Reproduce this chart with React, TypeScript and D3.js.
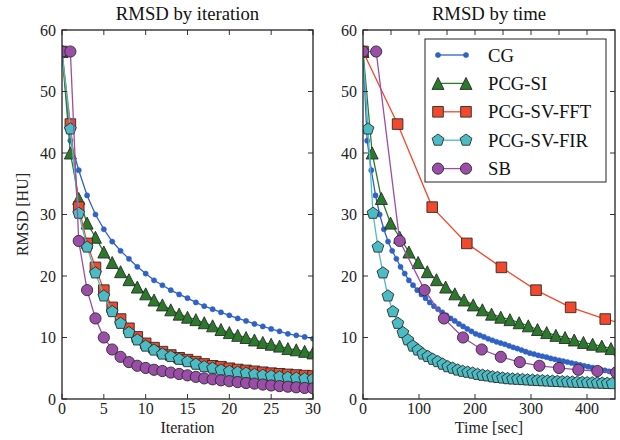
import React from "react";
import * as d3 from "d3";

// ---------- data ----------
const seriesNames = ["CG", "PCG-SI", "PCG-SV-FFT", "PCG-SV-FIR", "SB"];

const cgValues = [56.5, 42, 37.2, 33.1, 30.0, 27.6, 25.6, 24.1, 22.8, 21.5, 20.4, 19.3, 18.5, 17.7, 17.0, 16.4, 15.7, 15.1, 14.6, 14.1, 13.6, 13.1, 12.7, 12.2, 11.8, 11.4, 11.0, 10.6, 10.35, 10.1, 9.8,
  9.55, 9.3, 9.1, 8.9, 8.65, 8.4, 8.2, 7.95, 7.7, 7.45, 7.3, 7.1, 6.95, 6.8, 6.6, 6.45, 6.3, 6.15, 6.0, 5.85, 5.7, 5.55, 5.4, 5.25, 5.1, 4.95, 4.8, 4.65, 4.5, 4.35];
const pcgSiValues = [56.5, 40.0, 32.6, 28.6, 26.3, 23.9, 22.2, 20.7, 19.4, 18.2, 17.1, 16.1, 15.3, 14.5, 13.8, 13.3, 12.9, 12.4, 11.9, 11.3, 10.8, 10.35, 10.0, 9.6, 9.2, 8.9, 8.6, 8.2, 8.0, 7.75, 7.5];
const fftValues = [56.5, 44.7, 31.2, 25.3, 21.4, 17.7, 14.9, 13.0, 11.5, 10.1, 9.05, 8.35, 7.7, 7.15, 6.7, 6.4, 6.07, 5.7, 5.4, 5.25, 5.0, 4.8, 4.65, 4.5, 4.35, 4.2, 4.1, 4.0, 3.9, 3.8, 3.75];
const firValues = [56.5, 43.9, 30.2, 24.7, 20.5, 16.75, 14.2, 12.3, 10.8, 9.6, 8.6, 7.95, 7.3, 6.9, 6.45, 6.07, 5.65, 5.25, 5.0, 4.7, 4.5, 4.35, 4.2, 4.0, 3.85, 3.75, 3.6, 3.5, 3.4, 3.3, 3.25,
  3.2, 3.15, 3.1, 3.05, 3.0, 2.96, 2.92, 2.88, 2.84, 2.8, 2.77, 2.74, 2.71, 2.68, 2.65, 2.62, 2.59, 2.56, 2.53, 2.5];
const sbValues = [56.5, 56.5, 25.7, 17.7, 13.1, 10.0, 8.05, 6.85, 6.0, 5.4, 5.05, 4.75, 4.55, 4.3, 4.07, 3.85, 3.6, 3.35, 3.2, 3.04, 2.9, 2.75, 2.6, 2.5, 2.35, 2.2, 2.1, 2.0, 1.9, 1.8, 1.74];

// seconds per iteration (right panel), SB has measured times
const cgSecPerIter = 7.45;
const pcgSiSecPerIter = 16.4;
const fftSecPerIter = 61.8;
const firSecPerIter = 8.9;
const sbTimes = [0, 23.5, 65.5, 110, 144.6, 178.6, 212, 246, 280, 315, 350, 384.5, 418.5, 452];

const iterTicks = [0, 5, 10, 15, 20, 25, 30];
const timeTicks = [0, 100, 200, 300, 400];
const timeMinorTicks = [50, 150, 250, 350];
const rmsdTicks = [0, 10, 20, 30, 40, 50, 60];

// ---------- style ----------
const colors = ["#2f62c4", "#2b7a2b", "#f2482b", "#4bbcc3", "#9b4ea8"];
const markerKinds = ["dot", "triangle", "square", "pentagon", "circle"];
const FONT = "'Liberation Serif', 'DejaVu Serif', serif";

function markerPath(kind: string, cx: number, cy: number): string {
  if (kind === "dot") {
    const r = 2.6;
    return `M${cx + r},${cy}A${r},${r} 0 1,1 ${cx - r},${cy}A${r},${r} 0 1,1 ${cx + r},${cy}Z`;
  }
  if (kind === "circle") {
    const r = 5.6;
    return `M${cx + r},${cy}A${r},${r} 0 1,1 ${cx - r},${cy}A${r},${r} 0 1,1 ${cx + r},${cy}Z`;
  }
  if (kind === "square") {
    const h = 5.3;
    return `M${cx - h},${cy - h}L${cx + h},${cy - h}L${cx + h},${cy + h}L${cx - h},${cy + h}Z`;
  }
  if (kind === "triangle") {
    const h = 6;
    return `M${cx},${cy - h}L${cx + h},${cy + h}L${cx - h},${cy + h}Z`;
  }
  // pentagon
  const r = 6.2;
  const pts = d3.range(5).map((i) => {
    const a = -Math.PI / 2 + (i * 2 * Math.PI) / 5;
    return [cx + r * Math.cos(a), cy + r * Math.sin(a)];
  });
  return "M" + pts.map((p) => p.join(",")).join("L") + "Z";
}

type Pt = [number, number];

function Series({ pts, i }: { pts: Pt[]; i: number }) {
  const line = d3.line<Pt>().x((d) => d[0]).y((d) => d[1]);
  const kind = markerKinds[i];
  const edge = kind === "dot" ? colors[i] : "#2a2a2a";
  return (
    <g>
      <path d={line(pts) || ""} fill="none" stroke={colors[i]} strokeWidth={1.3} />
      {pts.map((p, k) => (
        <path key={k} d={markerPath(kind, p[0], p[1])} fill={colors[i]} stroke={edge} strokeWidth={kind === "dot" ? 0.5 : 0.9} />
      ))}
    </g>
  );
}

const top = 30, bottom = 399;
const y = d3.scaleLinear().domain([0, 60]).range([bottom, top]);
const xL = d3.scaleLinear().domain([0, 30]).range([62, 313]);
const xR = d3.scaleLinear().domain([0, 450]).range([363, 615]);

function Frame({ x, ticks, minor, title, xlabel, showYLabel }: any) {
  const [x0, x1] = x.range();
  const tl = 5;
  return (
    <g>
      <text x={(x0 + x1) / 2} y={20} fontFamily={FONT} fontSize={18.7} textAnchor="middle" fill="#111">{title}</text>
      {/* y ticks */}
      {rmsdTicks.map((t) => (
        <g key={"y" + t}>
          <line x1={x0} x2={x0 + tl} y1={y(t)} y2={y(t)} stroke="#333" />
          <line x1={x1} x2={x1 - tl} y1={y(t)} y2={y(t)} stroke="#333" />
          <text x={x0 - 6} y={y(t) + 5.5} fontFamily={FONT} fontSize={16} textAnchor="end" fill="#222">{t}</text>
        </g>
      ))}
      {ticks.map((t: number) => (
        <g key={"x" + t}>
          <line x1={x(t)} x2={x(t)} y1={bottom} y2={bottom - tl} stroke="#333" />
          <line x1={x(t)} x2={x(t)} y1={top} y2={top + tl} stroke="#333" />
          <text x={x(t)} y={414} fontFamily={FONT} fontSize={16} textAnchor="middle" fill="#222">{t}</text>
        </g>
      ))}
      {minor.map((t: number) => (
        <line key={"m" + t} x1={x(t)} x2={x(t)} y1={top} y2={top + tl} stroke="#333" />
      ))}
      <text x={(x0 + x1) / 2} y={433} fontFamily={FONT} fontSize={16} textAnchor="middle" fill="#222">{xlabel}</text>
      {showYLabel && (
        <text transform={`translate(28,${(top + bottom) / 2}) rotate(-90)`} fontFamily={FONT} fontSize={16} textAnchor="middle" fill="#222">RMSD [HU]</text>
      )}
    </g>
  );
}

export default function App() {
  const leftSets = [cgValues.slice(0, 31), pcgSiValues, fftValues, firValues, sbValues];
  const leftPts: Pt[][] = leftSets.map((vals) => vals.map((v, k) => [xL(k), y(v)] as Pt));

  const rates = [cgSecPerIter, pcgSiSecPerIter, fftSecPerIter, firSecPerIter];
  const rightSets = [cgValues, pcgSiValues, fftValues, firValues];
  const rightPts: Pt[][] = rightSets.map((vals, i) => vals.map((v, k) => [xR(k * rates[i]), y(v)] as Pt));
  rightPts.push(sbTimes.map((t, k) => [xR(t), y(sbValues[k])] as Pt));

  const [l0, l1] = xL.range();
  const [r0, r1] = xR.range();

  // legend
  const lgX = 425, lgY = 39, lgW = 181, lgH = 143;
  const rowY = (i: number) => lgY + 16 + i * 28.4;

  return (
    <svg width={620} height={440} style={{ position: "absolute", left: 0, top: 0, background: "#fff" }}>
      <defs>
        <clipPath id="clipL"><rect x={l0} y={top} width={l1 - l0} height={bottom - top} /></clipPath>
        <clipPath id="clipR"><rect x={r0} y={top} width={r1 - r0} height={bottom - top} /></clipPath>
      </defs>
      <rect x={0} y={0} width={620} height={440} fill="#fff" />

      <g clipPath="url(#clipL)">
        {leftPts.map((pts, i) => <Series key={i} pts={pts} i={i} />)}
      </g>
      <g clipPath="url(#clipR)">
        {rightPts.map((pts, i) => <Series key={i} pts={pts} i={i} />)}
      </g>

      <Frame x={xL} ticks={iterTicks} minor={[]} title="RMSD by iteration" xlabel="Iteration" showYLabel={true} />
      <Frame x={xR} ticks={timeTicks} minor={timeMinorTicks} title="RMSD by time" xlabel="Time [sec]" showYLabel={false} />

      <rect x={l0} y={top} width={l1 - l0} height={bottom - top} fill="none" stroke="#222" strokeWidth={1.3} />
      <rect x={r0} y={top} width={r1 - r0} height={bottom - top} fill="none" stroke="#222" strokeWidth={1.3} />

      <g>
        <rect x={lgX} y={lgY} width={lgW} height={lgH} fill="#fff" stroke="#222" strokeWidth={1} />
        {seriesNames.map((name, i) => (
          <g key={name}>
            <Series pts={[[438, rowY(i)], [466, rowY(i)]]} i={i} />
            <text x={488} y={rowY(i) + 6.5} fontFamily={FONT} fontSize={18.7} fill="#111">{name}</text>
          </g>
        ))}
      </g>
    </svg>
  );
}
